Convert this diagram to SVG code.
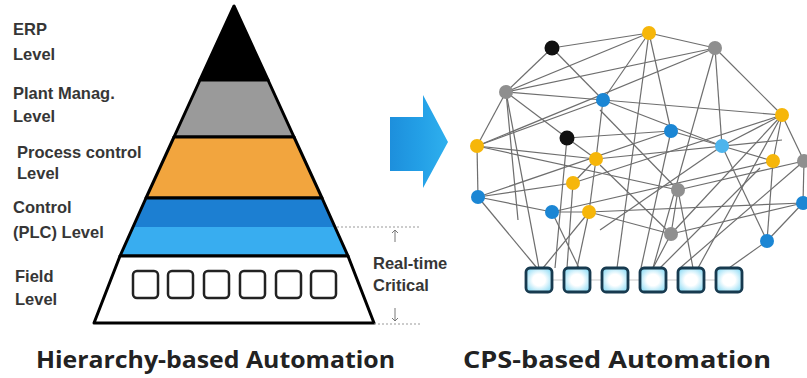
<svg xmlns="http://www.w3.org/2000/svg" width="807" height="378" viewBox="0 0 807 378">
<style>
.lbl{font-family:"Liberation Sans",Arial,sans-serif;font-weight:bold;font-size:16.5px;fill:#363636}
.ttl{font-family:"Open Sans","Liberation Sans",sans-serif;font-weight:bold;font-size:24px;fill:#222}
.band{stroke:#000;stroke-width:3;stroke-linejoin:round}
.fbox{fill:#fff;stroke:#222;stroke-width:2.5}
.dot{stroke:#999;stroke-width:1;stroke-dasharray:2 2;fill:none}
.edge{stroke:#6e6e6e;stroke-width:1.2;fill:none}
.sq{fill:url(#sqg);stroke:#173a4f;stroke-width:2.8}
.k{fill:#111}.y{fill:#f6b60a}.g{fill:#8f8f8f}.b{fill:#1b86d4}.lb{fill:#4db4ec}
</style>
<defs>
<radialGradient id="sqg" cx="0.5" cy="0.5" r="0.6">
<stop offset="0.4" stop-color="#ffffff"/><stop offset="1" stop-color="#8fdcf5"/>
</radialGradient>
<linearGradient id="arg" x1="0" y1="0" x2="1" y2="0">
<stop offset="0" stop-color="#1d8fdc"/><stop offset="0.5" stop-color="#239fe6"/><stop offset="1" stop-color="#2fb0ee"/>
</linearGradient>
<marker id="ah" markerWidth="6" markerHeight="6" refX="3" refY="3" orient="auto" markerUnits="userSpaceOnUse">
<path d="M0,0 L3,3 L0,6" fill="none" stroke="#777" stroke-width="1"/>
</marker>
</defs>
<rect width="807" height="378" fill="#fff"/>

<g id="pyramid">
<polygon points="234,6 200,80 268,80" fill="#000" class="band"/>
<polygon points="200,80 268,80 294,137 174,137" fill="#9a9a9a" class="band"/>
<polygon points="174,137 294,137 322,198 146,198" fill="#f2a53e" class="band"/>
<polygon points="146,198 322,198 335,227 133,227" fill="#1c7fd2"/>
<polygon points="133,227 335,227 348,256 120,256" fill="#38adf0"/>
<polygon points="146,198 322,198 348,256 120,256" fill="none" class="band"/>
<polygon points="120,256 348,256 374,323 94,323" fill="#fff" class="band"/>
</g>
<g id="field-devices">
<rect x="133" y="271" width="25" height="27" rx="4" class="fbox"/>
<rect x="168" y="271" width="25" height="27" rx="4" class="fbox"/>
<rect x="204" y="271" width="25" height="27" rx="4" class="fbox"/>
<rect x="240" y="271" width="25" height="27" rx="4" class="fbox"/>
<rect x="276" y="271" width="25" height="27" rx="4" class="fbox"/>
<rect x="311" y="271" width="25" height="27" rx="4" class="fbox"/>
</g>
<g id="level-labels">
<text class="lbl" x="13" y="35">ERP</text>
<text class="lbl" x="13" y="60">Level</text>
<text class="lbl" x="13" y="99">Plant Manag.</text>
<text class="lbl" x="13" y="122">Level</text>
<text class="lbl" x="17" y="158">Process control</text>
<text class="lbl" x="17" y="179">Level</text>
<text class="lbl" x="13" y="213">Control</text>
<text class="lbl" x="13" y="238">(PLC) Level</text>
<text class="lbl" x="15" y="282">Field</text>
<text class="lbl" x="15" y="305">Level</text>
</g>
<g id="realtime">
<line x1="337" y1="227" x2="420" y2="227" class="dot"/>
<line x1="374" y1="324" x2="420" y2="324" class="dot"/>
<line x1="395" y1="242" x2="395" y2="230" stroke="#777" stroke-width="1" marker-end="url(#ah)"/>
<line x1="395" y1="308" x2="395" y2="321" stroke="#777" stroke-width="1" marker-end="url(#ah)"/>
<text class="lbl" x="373" y="269">Real-time</text>
<text class="lbl" x="373" y="291">Critical</text>
</g>
<g id="transition-arrow">
<polygon points="390,117 423,117 423,95 448,142 423,188 423,171 390,171" fill="url(#arg)"/>
</g>

<g id="connectors">
<line class="edge" x1="552" y1="48" x2="649" y2="33"/>
<line class="edge" x1="552" y1="48" x2="506" y2="92"/>
<line class="edge" x1="552" y1="48" x2="603" y2="100"/>
<line class="edge" x1="649" y1="33" x2="715" y2="48"/>
<line class="edge" x1="649" y1="33" x2="506" y2="92"/>
<line class="edge" x1="649" y1="33" x2="671" y2="131"/>
<line class="edge" x1="649" y1="33" x2="603" y2="100"/>
<line class="edge" x1="649" y1="33" x2="617" y2="268"/>
<line class="edge" x1="715" y1="48" x2="506" y2="92"/>
<line class="edge" x1="715" y1="48" x2="477" y2="146"/>
<line class="edge" x1="715" y1="48" x2="782" y2="115"/>
<line class="edge" x1="715" y1="48" x2="722" y2="146"/>
<line class="edge" x1="715" y1="48" x2="653" y2="268"/>
<line class="edge" x1="506" y1="92" x2="603" y2="100"/>
<line class="edge" x1="506" y1="92" x2="477" y2="146"/>
<line class="edge" x1="506" y1="92" x2="567" y2="138"/>
<line class="edge" x1="506" y1="92" x2="539" y2="268"/>
<line class="edge" x1="506" y1="92" x2="518" y2="220"/>
<line class="edge" x1="603" y1="100" x2="782" y2="115"/>
<line class="edge" x1="603" y1="100" x2="477" y2="146"/>
<line class="edge" x1="603" y1="100" x2="596" y2="159"/>
<line class="edge" x1="603" y1="100" x2="722" y2="146"/>
<line class="edge" x1="567" y1="138" x2="671" y2="131"/>
<line class="edge" x1="567" y1="138" x2="596" y2="159"/>
<line class="edge" x1="567" y1="138" x2="555" y2="268"/>
<line class="edge" x1="477" y1="146" x2="478" y2="197"/>
<line class="edge" x1="477" y1="146" x2="678" y2="190"/>
<line class="edge" x1="477" y1="146" x2="596" y2="159"/>
<line class="edge" x1="671" y1="131" x2="722" y2="146"/>
<line class="edge" x1="671" y1="131" x2="478" y2="197"/>
<line class="edge" x1="671" y1="131" x2="641" y2="268"/>
<line class="edge" x1="722" y1="146" x2="773" y2="161"/>
<line class="edge" x1="722" y1="146" x2="782" y2="115"/>
<line class="edge" x1="722" y1="146" x2="767" y2="241"/>
<line class="edge" x1="722" y1="146" x2="600" y2="230"/>
<line class="edge" x1="782" y1="115" x2="773" y2="161"/>
<line class="edge" x1="782" y1="115" x2="804" y2="161"/>
<line class="edge" x1="782" y1="115" x2="573" y2="183"/>
<line class="edge" x1="782" y1="115" x2="671" y2="234"/>
<line class="edge" x1="782" y1="115" x2="698" y2="268"/>
<line class="edge" x1="773" y1="161" x2="767" y2="241"/>
<line class="edge" x1="773" y1="161" x2="552" y2="212"/>
<line class="edge" x1="804" y1="161" x2="803" y2="203"/>
<line class="edge" x1="804" y1="161" x2="678" y2="190"/>
<line class="edge" x1="804" y1="161" x2="680" y2="268"/>
<line class="edge" x1="573" y1="183" x2="596" y2="159"/>
<line class="edge" x1="573" y1="183" x2="478" y2="197"/>
<line class="edge" x1="573" y1="183" x2="567" y2="268"/>
<line class="edge" x1="596" y1="159" x2="589" y2="212"/>
<line class="edge" x1="596" y1="159" x2="782" y2="140"/>
<line class="edge" x1="678" y1="190" x2="671" y2="234"/>
<line class="edge" x1="678" y1="190" x2="693" y2="268"/>
<line class="edge" x1="678" y1="190" x2="600" y2="110"/>
<line class="edge" x1="478" y1="197" x2="552" y2="212"/>
<line class="edge" x1="478" y1="197" x2="537" y2="268"/>
<line class="edge" x1="552" y1="212" x2="589" y2="212"/>
<line class="edge" x1="552" y1="212" x2="579" y2="268"/>
<line class="edge" x1="589" y1="212" x2="543" y2="268"/>
<line class="edge" x1="589" y1="212" x2="577" y2="268"/>
<line class="edge" x1="589" y1="212" x2="803" y2="203"/>
<line class="edge" x1="589" y1="212" x2="671" y2="234"/>
<line class="edge" x1="671" y1="234" x2="653" y2="268"/>
<line class="edge" x1="671" y1="234" x2="803" y2="203"/>
<line class="edge" x1="671" y1="234" x2="600" y2="165"/>
<line class="edge" x1="767" y1="241" x2="803" y2="203"/>
<line class="edge" x1="767" y1="241" x2="729" y2="268"/>
<line class="edge" x1="660" y1="268" x2="760" y2="168"/>
<line x1="552" y1="280" x2="716" y2="280" stroke="#c9c9c9" stroke-width="1"/>
</g>

<g id="n1"><circle cx="552" cy="48" r="7.5" class="k"/></g>
<g id="n2"><circle cx="649" cy="33" r="7" class="y"/></g>
<g id="n3"><circle cx="715" cy="48" r="7" class="g"/></g>
<g id="n4"><circle cx="506" cy="92" r="7" class="g"/></g>
<g id="n5"><circle cx="603" cy="100" r="7" class="b"/></g>
<g id="n6"><circle cx="567" cy="138" r="7.5" class="k"/></g>
<g id="n7"><circle cx="477" cy="146" r="7" class="y"/></g>
<g id="n8"><circle cx="596" cy="159" r="7" class="y"/></g>
<g id="n9"><circle cx="671" cy="131" r="7" class="b"/></g>
<g id="n10"><circle cx="722" cy="146" r="7" class="lb"/></g>
<g id="n11"><circle cx="782" cy="115" r="7" class="y"/></g>
<g id="n12"><circle cx="773" cy="161" r="7" class="y"/></g>
<g id="n13"><circle cx="804" cy="161" r="7" class="g"/></g>
<g id="n14"><circle cx="573" cy="183" r="7" class="y"/></g>
<g id="n15"><circle cx="678" cy="190" r="7" class="g"/></g>
<g id="n16"><circle cx="478" cy="197" r="7" class="b"/></g>
<g id="n17"><circle cx="552" cy="212" r="7" class="b"/></g>
<g id="n18"><circle cx="589" cy="212" r="7" class="y"/></g>
<g id="n19"><circle cx="671" cy="234" r="7" class="g"/></g>
<g id="n20"><circle cx="767" cy="241" r="7" class="b"/></g>
<g id="n21"><circle cx="803" cy="203" r="7" class="b"/></g>

<g id="s1"><rect x="526" y="268" width="26" height="24" rx="4" class="sq"/></g>
<g id="s2"><rect x="564" y="268" width="26" height="24" rx="4" class="sq"/></g>
<g id="s3"><rect x="602" y="268" width="26" height="24" rx="4" class="sq"/></g>
<g id="s4"><rect x="640" y="268" width="26" height="24" rx="4" class="sq"/></g>
<g id="s5"><rect x="678" y="268" width="26" height="24" rx="4" class="sq"/></g>
<g id="s6"><rect x="716" y="268" width="26" height="24" rx="4" class="sq"/></g>

<text class="ttl" x="36" y="368" textLength="359" lengthAdjust="spacingAndGlyphs">Hierarchy-based Automation</text>
<text class="ttl" x="463" y="368" textLength="308" lengthAdjust="spacingAndGlyphs">CPS-based Automation</text>
</svg>
